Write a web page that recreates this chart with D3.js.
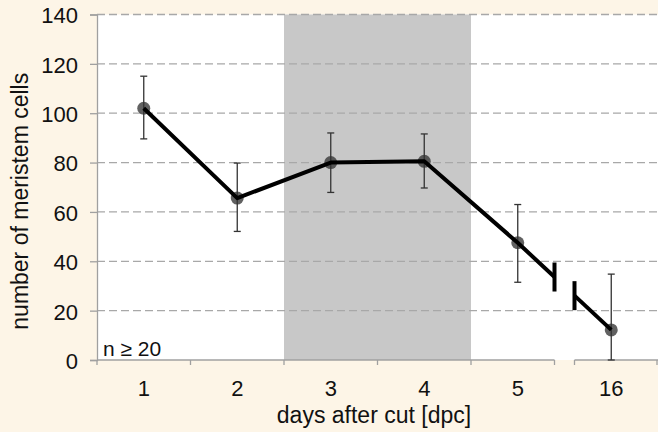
<!DOCTYPE html>
<html>
<head>
<meta charset="utf-8">
<script src="https://cdn.jsdelivr.net/npm/d3@7"></script>
<style>
  html, body { margin: 0; padding: 0; background: #fdf5e7; }
  svg { display: block; font-family: "Liberation Sans", Arial, sans-serif; }
</style>
</head>
<body>
<svg id="chart" width="658" height="432"></svg>
<script>
// data
var days = ["1", "2", "3", "4", "5", "16"];
var cells = [102, 65.6, 80, 80.5, 47.5, 12.2];
var errUpper = [115, 79.8, 92, 91.6, 63, 34.8];
var errLower = [89.6, 52.1, 67.9, 69.7, 31.5, 0];
var yTicks = [0, 20, 40, 60, 80, 100, 120, 140];
var shadedDays = ["3", "4"];
var nLabel = "n \u2265 20";

var svg = d3.select("#chart");
var margin = { top: 14.5, right: 0, bottom: 72, left: 97 };
var width = +svg.attr("width") - margin.left - margin.right;
var height = +svg.attr("height") - margin.top - margin.bottom;

var g = svg.append("g")
  .attr("transform", "translate(" + margin.left + "," + margin.top + ")");

var x = d3.scaleBand().domain(days).range([0, width]).padding(0);
var y = d3.scaleLinear().domain([0, 140]).range([height, 0]);
var cx = function(d) { return x(d) + x.bandwidth() / 2; };

// plot area
g.append("rect")
  .attr("width", width)
  .attr("height", height)
  .attr("fill", "#fff");

// shaded days
g.append("rect")
  .attr("x", x(shadedDays[0]))
  .attr("width", x(shadedDays[1]) + x.bandwidth() - x(shadedDays[0]))
  .attr("height", height)
  .attr("fill", "#c8c8c8");

// gridlines
g.selectAll(".grid")
  .data(yTicks.filter(function(d) { return d > 0; }))
  .enter()
  .append("line")
  .attr("x1", 0)
  .attr("x2", width)
  .attr("y1", function(d) { return y(d); })
  .attr("y2", function(d) { return y(d); })
  .attr("stroke", "#a8a8a8")
  .attr("stroke-width", 1.3)
  .attr("stroke-dasharray", "8,4");

// y axis
var yAxis = g.append("g")
  .call(d3.axisLeft(y).tickValues(yTicks).tickSize(7).tickPadding(12));
yAxis.select(".domain").attr("stroke", "#a0a0a0").attr("stroke-width", 1.3);
yAxis.selectAll(".tick line").attr("stroke", "#a0a0a0").attr("stroke-width", 1.3);
yAxis.selectAll("text")
  .attr("font-size", 22)
  .attr("font-family", "Liberation Sans, Arial, sans-serif")
  .attr("fill", "#111")
  .attr("dy", "0.38em");

// x axis with a break between 5 and 16
var breakX = x(days[5]);
var gap = 10;
var axisColor = "#a0a0a0";
var xa = g.append("g").attr("transform", "translate(0," + height + ")");
[[0, breakX - gap], [breakX + gap, width]].forEach(function(seg) {
  xa.append("line")
    .attr("x1", seg[0]).attr("x2", seg[1])
    .attr("stroke", axisColor).attr("stroke-width", 1.3);
});
var tickXs = days.map(function(d) { return x(d); })
  .filter(function(v) { return v !== breakX; })
  .concat([breakX - gap, breakX + gap, width - 1]);
xa.selectAll(".xt")
  .data(tickXs)
  .enter()
  .append("line")
  .attr("x1", function(d) { return d; })
  .attr("x2", function(d) { return d; })
  .attr("y1", 0)
  .attr("y2", 5)
  .attr("stroke", axisColor)
  .attr("stroke-width", 1.3);
xa.selectAll(".xl")
  .data(days)
  .enter()
  .append("text")
  .attr("x", function(d) { return cx(d); })
  .attr("y", 36)
  .attr("text-anchor", "middle")
  .attr("font-size", 22)
  .attr("fill", "#111")
  .text(function(d) { return d; });

// axis titles
svg.append("text")
  .attr("transform", "translate(28," + (margin.top + height / 2 + 14) + ") rotate(-90)")
  .attr("text-anchor", "middle")
  .attr("font-size", 23)
  .attr("fill", "#111")
  .text("number of meristem cells");

svg.append("text")
  .attr("x", 374)
  .attr("y", 423)
  .attr("text-anchor", "middle")
  .attr("font-size", 23)
  .attr("fill", "#111")
  .text("days after cut [dpc]");

// n label
g.append("text")
  .attr("x", 6)
  .attr("y", height - 4)
  .attr("font-size", 21)
  .attr("fill", "#111")
  .text(nLabel);

// markers
g.selectAll(".dot")
  .data(days)
  .enter()
  .append("circle")
  .attr("cx", function(d) { return cx(d); })
  .attr("cy", function(d, i) { return y(cells[i]); })
  .attr("r", 6.5)
  .attr("fill", "#3a3a3a")
  .attr("fill-opacity", 0.8);

// error bars
var eb = g.selectAll(".err").data(days).enter().append("g");
eb.append("line")
  .attr("x1", function(d) { return cx(d); })
  .attr("x2", function(d) { return cx(d); })
  .attr("y1", function(d, i) { return y(errUpper[i]); })
  .attr("y2", function(d, i) { return y(errLower[i]); })
  .attr("stroke", "#333")
  .attr("stroke-width", 1.3);
[errUpper, errLower].forEach(function(arr) {
  eb.append("line")
    .attr("x1", function(d) { return cx(d) - 3.5; })
    .attr("x2", function(d) { return cx(d) + 3.5; })
    .attr("y1", function(d, i) { return y(arr[i]); })
    .attr("y2", function(d, i) { return y(arr[i]); })
    .attr("stroke", "#333")
    .attr("stroke-width", 1.3);
});

// main line, broken between 5 and 16
var x5 = cx(days[4]), x16 = cx(days[5]);
var interp = d3.scaleLinear().domain([x5, x16]).range([cells[4], cells[5]]);
var leftPart = days.slice(0, 5).map(function(d, i) { return [cx(d), cells[i]]; });
leftPart.push([breakX - gap, interp(breakX - gap)]);
var rightPart = [[breakX + gap, interp(breakX + gap)], [x16, cells[5]]];

var line = d3.line()
  .x(function(d) { return d[0]; })
  .y(function(d) { return y(d[1]); });

[leftPart, rightPart].forEach(function(part) {
  g.append("path")
    .datum(part)
    .attr("d", line)
    .attr("fill", "none")
    .attr("stroke", "#000")
    .attr("stroke-width", 4)
    .attr("stroke-linejoin", "round");
});

// break marks
[breakX - gap, breakX + gap].forEach(function(bx) {
  g.append("line")
    .attr("x1", bx)
    .attr("x2", bx)
    .attr("y1", y(interp(bx)) - 14.5)
    .attr("y2", y(interp(bx)) + 14.5)
    .attr("stroke", "#000")
    .attr("stroke-width", 4);
});
</script>
</body>
</html>
